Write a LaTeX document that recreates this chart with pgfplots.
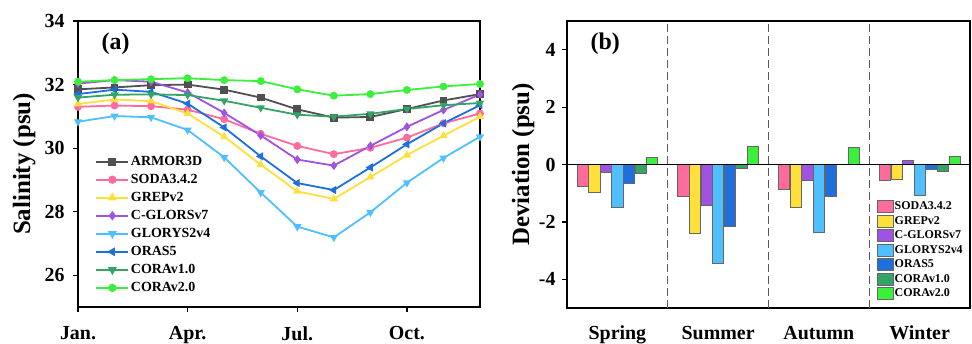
\documentclass[border=0pt]{standalone}
\usepackage{fontspec}
\setmainfont{Liberation Serif}
\usepackage{pgfplots}
\pgfplotsset{compat=1.18}
\definecolor{armor}{HTML}{505050}
\definecolor{soda}{HTML}{FF6B9D}
\definecolor{grep}{HTML}{FFDF3A}
\definecolor{cglors}{HTML}{A052E0}
\definecolor{glorys}{HTML}{4FBFFF}
\definecolor{oras}{HTML}{1E6FDC}
\definecolor{coraA}{HTML}{33A366}
\definecolor{coraB}{HTML}{3AF03A}
\begin{document}
\begin{tikzpicture}[x=1bp,y=1bp]
\clip (0,0) rectangle (972,343);
\path[use as bounding box] (0,0) rectangle (972,343);
\pgfplotsset{
  common/.style={
    scale only axis,
    anchor=south west,
    axis line style={line width=1.8bp},
    tick style={line width=1.2bp, black},
    major tick length=5bp,
    tick align=outside,
    xtick pos=bottom, ytick pos=left,
    tick label style={font=\fontsize{20}{24}\selectfont\bfseries},
    /pgf/number format/assume math mode=true,
    ylabel style={font=\fontsize{25}{28}\selectfont\bfseries},
  },
}
% ---------------- panel (a)
\begin{axis}[common,
  at={(78bp,36bp)}, width=402bp, height=286bp,
  xmin=1, xmax=12, ymin=25, ymax=34,
  xtick={1,4,7,10}, xticklabels={Jan.,Apr.,Jul.,Oct.},
  ytick={26,28,30,32,34},
  ylabel={Salinity (psu)},
  ylabel style={at={(axis description cs:-0.134,0.5)}, anchor=center},
  xticklabel style={yshift=-11bp},
  yticklabel style={xshift=-5bp},
  every axis plot/.append style={line width=1.8bp, mark size=3bp},
  legend cell align=left,
  legend style={at={(0.035,0.035)}, anchor=south west, draw=none, fill=none,
    font=\fontsize{14}{14}\selectfont\bfseries, row sep=4.3bp,
    nodes={inner sep=1.5bp}},
  legend image code/.code={\draw[mark repeat=2,mark phase=2,line width=2.2bp,#1] plot coordinates {(0bp,0bp) (16bp,0bp) (32bp,0bp)};},
]
\addplot[color=armor, mark=square*] coordinates {(1,31.85)(2,31.91)(3,31.98)(4,32.00)(5,31.84)(6,31.59)(7,31.22)(8,30.96)(9,30.98)(10,31.23)(11,31.50)(12,31.70)};
\addlegendentry{ARMOR3D}
\addplot[color=soda, mark=*] coordinates {(1,31.30)(2,31.34)(3,31.32)(4,31.21)(5,30.91)(6,30.45)(7,30.07)(8,29.81)(9,30.01)(10,30.33)(11,30.78)(12,31.09)};
\addlegendentry{SODA3.4.2}
\addplot[color=grep, mark=triangle*] coordinates {(1,31.39)(2,31.53)(3,31.48)(4,31.09)(5,30.36)(6,29.48)(7,28.64)(8,28.40)(9,29.09)(10,29.78)(11,30.39)(12,30.99)};
\addlegendentry{GREPv2}
\addplot[color=cglors, mark=diamond*] coordinates {(1,32.03)(2,32.14)(3,32.09)(4,31.75)(5,31.11)(6,30.40)(7,29.64)(8,29.45)(9,30.07)(10,30.67)(11,31.20)(12,31.69)};
\addlegendentry{C-GLORSv7}
\addplot[color=glorys, mark=triangle*, mark options={rotate=180}] coordinates {(1,30.83)(2,31.01)(3,30.97)(4,30.57)(5,29.71)(6,28.60)(7,27.53)(8,27.19)(9,27.98)(10,28.91)(11,29.69)(12,30.36)};
\addlegendentry{GLORYS2v4}
\addplot[color=oras, mark=triangle*, mark options={rotate=90}] coordinates {(1,31.70)(2,31.84)(3,31.77)(4,31.40)(5,30.65)(6,29.74)(7,28.90)(8,28.68)(9,29.39)(10,30.12)(11,30.78)(12,31.35)};
\addlegendentry{ORAS5}
\addplot[color=coraA, mark=triangle*, mark options={rotate=180}] coordinates {(1,31.59)(2,31.68)(3,31.69)(4,31.67)(5,31.49)(6,31.27)(7,31.05)(8,30.99)(9,31.08)(10,31.23)(11,31.35)(12,31.42)};
\addlegendentry{CORAv1.0}
\addplot[color=coraB, mark=*] coordinates {(1,32.09)(2,32.14)(3,32.17)(4,32.20)(5,32.14)(6,32.11)(7,31.85)(8,31.65)(9,31.70)(10,31.83)(11,31.94)(12,32.02)};
\addlegendentry{CORAv2.0}
\node[anchor=west, font=\fontsize{24}{26}\selectfont\bfseries] at (rel axis cs:0.05,0.92) {(a)};
\end{axis}
% ---------------- panel (b)
\begin{axis}[common,
  at={(567bp,35bp)}, width=403bp, height=287bp,
  xmin=0, xmax=4, ymin=-5, ymax=5,
  xtick={0.5,1.5,2.5,3.5}, xticklabels={Spring,Summer,Autumn,Winter},
  xtick style={draw=none},
  ytick={-4,-2,0,2,4},
  ylabel={Deviation (psu)},
  ylabel style={at={(axis description cs:-0.109,0.5)}, anchor=center},
  xticklabel style={yshift=-9.5bp},
  yticklabel style={xshift=-3bp},
  ybar=0.4bp, bar width=0.111,
  every axis plot/.append style={draw=black!60, line width=0.6bp},
  legend cell align=left,
  legend style={at={(0.993,0.02)}, anchor=south east, draw=none, fill=none,
    font=\fontsize{12}{12}\selectfont\bfseries, row sep=1.9bp,
    nodes={inner sep=1.3bp}},
  legend image code/.code={\draw[#1] (0bp,-6bp) rectangle (16bp,6bp);},
]
\addplot[fill=soda] coordinates {(0.5,-0.77)(1.5,-1.12)(2.5,-0.87)(3.5,-0.55)};
\addlegendentry{SODA3.4.2}
\addplot[fill=grep] coordinates {(0.5,-0.97)(1.5,-2.40)(2.5,-1.48)(3.5,-0.51)};
\addlegendentry{GREPv2}
\addplot[fill=cglors] coordinates {(0.5,-0.28)(1.5,-1.41)(2.5,-0.55)(3.5,0.13)};
\addlegendentry{C-GLORSv7}
\addplot[fill=glorys] coordinates {(0.5,-1.50)(1.5,-3.43)(2.5,-2.35)(3.5,-1.06)};
\addlegendentry{GLORYS2v4}
\addplot[fill=oras] coordinates {(0.5,-0.65)(1.5,-2.14)(2.5,-1.12)(3.5,-0.17)};
\addlegendentry{ORAS5}
\addplot[fill=coraA] coordinates {(0.5,-0.30)(1.5,-0.14)(2.5,0)(3.5,-0.25)};
\addlegendentry{CORAv1.0}
\addplot[fill=coraB] coordinates {(0.5,0.25)(1.5,0.62)(2.5,0.60)(3.5,0.27)};
\addlegendentry{CORAv2.0}
\draw[black, line width=1.5bp] (axis cs:0,0) -- (axis cs:4,0);
\foreach \xx in {1,2,3}{
  \edef\tmp{\noexpand\draw[black!65, line width=1.2bp, dash pattern=on 8bp off 4bp] (axis cs:\xx,-5) -- (axis cs:\xx,5);}\tmp
}
\node[anchor=west, font=\fontsize{24}{26}\selectfont\bfseries] at (rel axis cs:0.05,0.92) {(b)};
\end{axis}
\end{tikzpicture}
\end{document}
